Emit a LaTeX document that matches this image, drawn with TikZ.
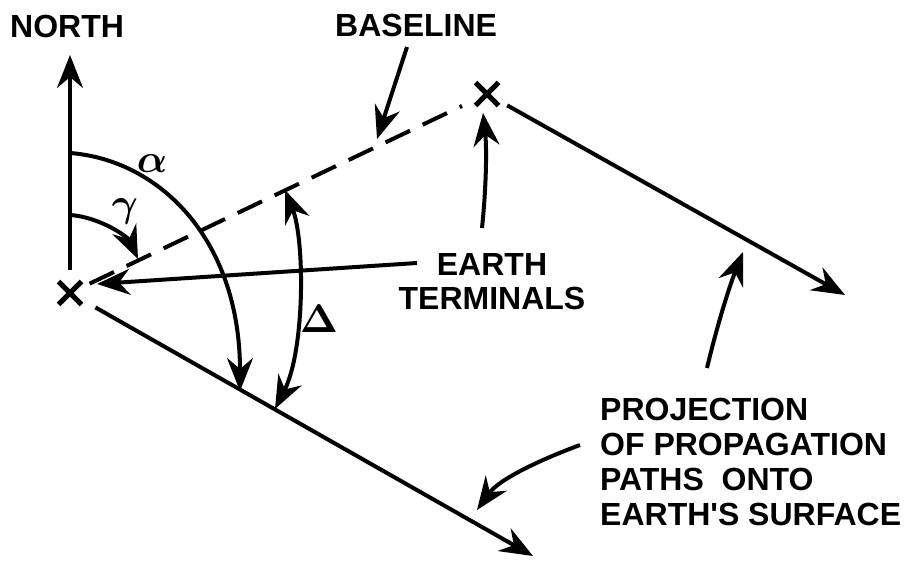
\documentclass[tikz,border=0pt]{standalone}
\usepackage{fontspec}
\setsansfont{Liberation Sans}
\usepackage{bm}
\usetikzlibrary{arrows.meta,shapes.misc}

\begin{document}
\begin{tikzpicture}[x=1pt,y=-1pt,
  lbl/.style={font=\fontsize{32}{35}\selectfont\sffamily\bfseries, inner sep=0pt},
  greek/.style={scale=4, inner sep=0pt},
  ln/.style={line width=4pt},
  arr/.style={ln, -{Stealth[length=33pt,width=26pt,inset=11pt]}},
  darr/.style={ln, {Stealth[length=33pt,width=26pt,inset=11pt]}-{Stealth[length=33pt,width=26pt,inset=11pt]}},
  cross/.style={cross out, draw, line width=5pt, minimum size=18pt, inner sep=0pt},
  baseln/.style={ln, dash pattern=on 27pt off 14pt}]

\useasboundingbox (0,0) rectangle (923,561);

% terminals
\node[cross] (XL) at (70,293) {};
\node[cross] (XR) at (487,94) {};

% labels
\node[lbl, anchor=base west] (north) at (10,38) {NORTH};
\node[lbl, anchor=base west] (baseline) at (335,37) {BASELINE};
\node[lbl, anchor=base] (earth) at (492,276) {EARTH};
\node[lbl, anchor=base] (terminals) at (492,309) {TERMINALS};
\node[lbl, anchor=base west] (proj1) at (600,420) {PROJECTION};
\node[lbl, anchor=base west] (proj2) at (600,455) {OF PROPAGATION};
\node[lbl, anchor=base west] (proj3) at (600,490) {PATHS\ \ ONTO};
\node[lbl, anchor=base west] (proj4) at (600,525) {EARTH\textquotesingle S SURFACE};

\node[greek] (alpha) at (152,164) {$\bm{\alpha}$};
\node[greek] (gamma) at (125,212) {$\bm{\gamma}$};
\node[greek] (delta) at (319,319) {$\bm{\Delta}$};

% coordinates
\coordinate (ntip) at (70,55);
\coordinate (rtip) at (845,295);
\coordinate (ltip) at (533,556);
\coordinate (a0) at (70,153);
\coordinate (a1) at (240,391);
\coordinate (g0) at (70,215);
\coordinate (g1) at (138,259);
\coordinate (d0) at (285,190);
\coordinate (d1) at (275,409);
\coordinate (bl0) at (407,47);
\coordinate (bl1) at (377,139);
\coordinate (eL0) at (417,263);
\coordinate (eL1) at (97,284);
\coordinate (eU0) at (482,228);
\coordinate (eU1) at (483,113);
\coordinate (pL0) at (580,445);
\coordinate (pL1) at (477,510);
\coordinate (pU0) at (707,368);
\coordinate (pU1) at (743,252);

% north
\draw[arr, shorten <=11pt] (XL) -- (ntip);
% baseline (dashed)
\draw[baseln, shorten <=9pt, shorten >=15pt] (XL) -- (XR);
% propagation path projections
\draw[arr, shorten <=16pt] (XL) -- (ltip);
\draw[arr, shorten <=10pt] (XR) -- (rtip);

% angles
\draw[arr] (a0) .. controls (160,160) and (240,240) .. (a1);
\draw[arr] (g0) .. controls (100,217) and (128,237) .. (g1);
\draw[darr] (d0) .. controls (305,240) and (305,350) .. (d1);

% label arrows
\draw[arr] (bl0) -- (bl1);
\draw[arr] (eL0) -- (eL1);
\draw[arr] (eU0) .. controls (486,190) and (487,150) .. (eU1);
\draw[arr] (pL0) .. controls (545,458) and (500,478) .. (pL1);
\draw[arr] (pU0) .. controls (716,330) and (728,290) .. (pU1);
\end{tikzpicture}
\end{document}
